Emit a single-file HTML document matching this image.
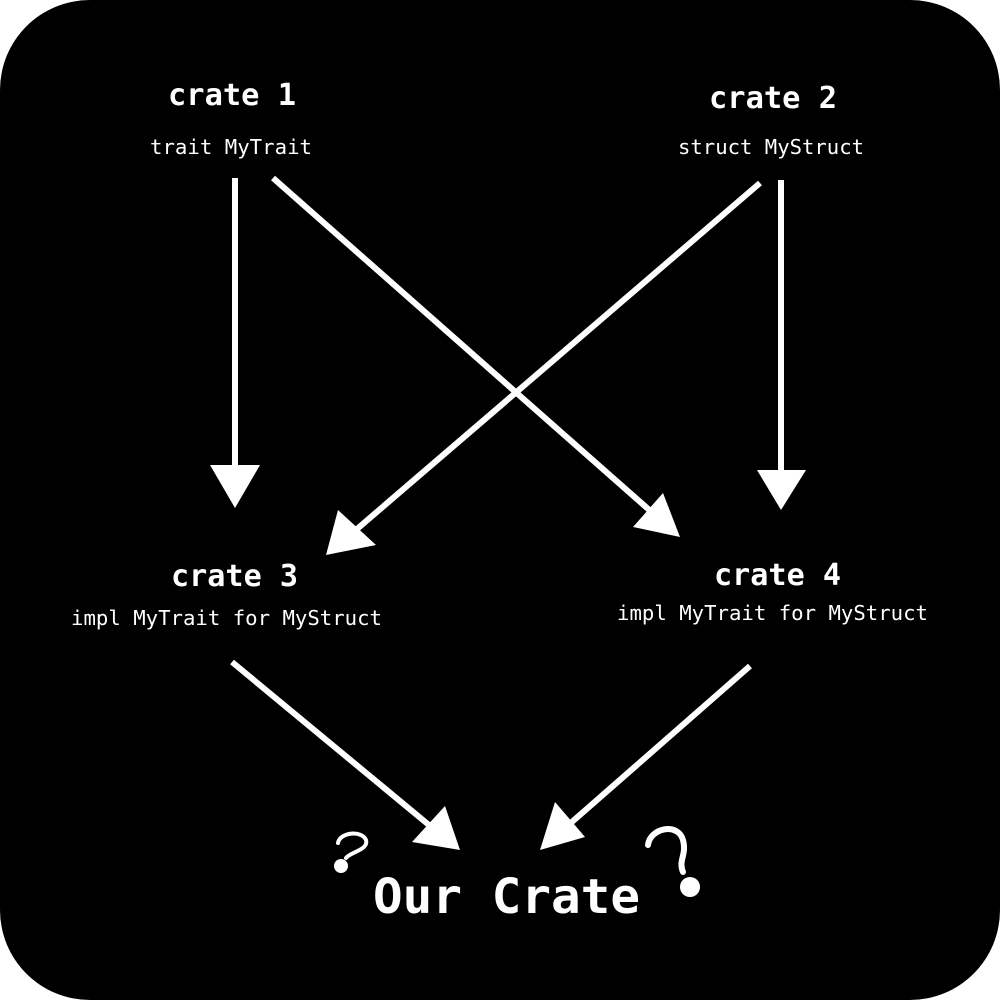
<!DOCTYPE html>
<html><head><meta charset="utf-8"><style>
html,body{margin:0;padding:0;background:#fff;}
svg{display:block}
text{font-family:"DejaVu Sans Mono","Liberation Mono",monospace;fill:#fff}
</style></head><body>
<svg width="1000" height="1000" viewBox="0 0 1000 1000">
<rect x="0" y="0" width="1000" height="1000" rx="90" ry="90" fill="#000"/>
<g stroke="#fff" stroke-width="6" fill="none">
<line x1="235" y1="178" x2="235" y2="480"/>
<line x1="273" y1="178" x2="655" y2="515"/>
<line x1="760" y1="183" x2="350" y2="535"/>
<line x1="781" y1="180" x2="781" y2="485"/>
<line x1="232" y1="662" x2="435" y2="830"/>
<line x1="750" y1="666" x2="565" y2="828"/>
</g>
<g fill="#fff">
<polygon points="210,465 260,465 235,508"/>
<polygon points="633,527 663,493 680,537"/>
<polygon points="338,510 376,545 326,555"/>
<polygon points="757,470 806,470 781,510"/>
<polygon points="412,842 445,806 460,850"/>
<polygon points="540,850 555,802 585,837"/>
<circle cx="341" cy="866" r="7"/>
<circle cx="690" cy="887" r="10"/>
</g>
<g font-weight="bold" font-size="30" text-anchor="start">
<text x="168" y="105" textLength="128" lengthAdjust="spacingAndGlyphs">crate 1</text>
<text x="709" y="108" textLength="128" lengthAdjust="spacingAndGlyphs">crate 2</text>
<text x="171" y="586" textLength="127" lengthAdjust="spacingAndGlyphs">crate 3</text>
<text x="714" y="585" textLength="127" lengthAdjust="spacingAndGlyphs">crate 4</text>
</g>
<g font-size="20">
<text x="150" y="154" textLength="162" lengthAdjust="spacingAndGlyphs">trait MyTrait</text>
<text x="678" y="154" textLength="186" lengthAdjust="spacingAndGlyphs">struct MyStruct</text>
<text x="71" y="625" textLength="311" lengthAdjust="spacingAndGlyphs">impl MyTrait for MyStruct</text>
<text x="617" y="620" textLength="311" lengthAdjust="spacingAndGlyphs">impl MyTrait for MyStruct</text>
</g>
<text x="373" y="913" font-size="48" font-weight="bold" textLength="267" lengthAdjust="spacingAndGlyphs">Our Crate</text>
<path d="M338,843 C340,832 362,830 366,840 C369,850 350,852 346,858" stroke="#fff" stroke-width="4" fill="none" stroke-linecap="round"/>
<path d="M648,845 C650,828 678,822 683,840 C687,855 678,860 683,872" stroke="#fff" stroke-width="6" fill="none" stroke-linecap="round"/>
</svg>
</body></html>
